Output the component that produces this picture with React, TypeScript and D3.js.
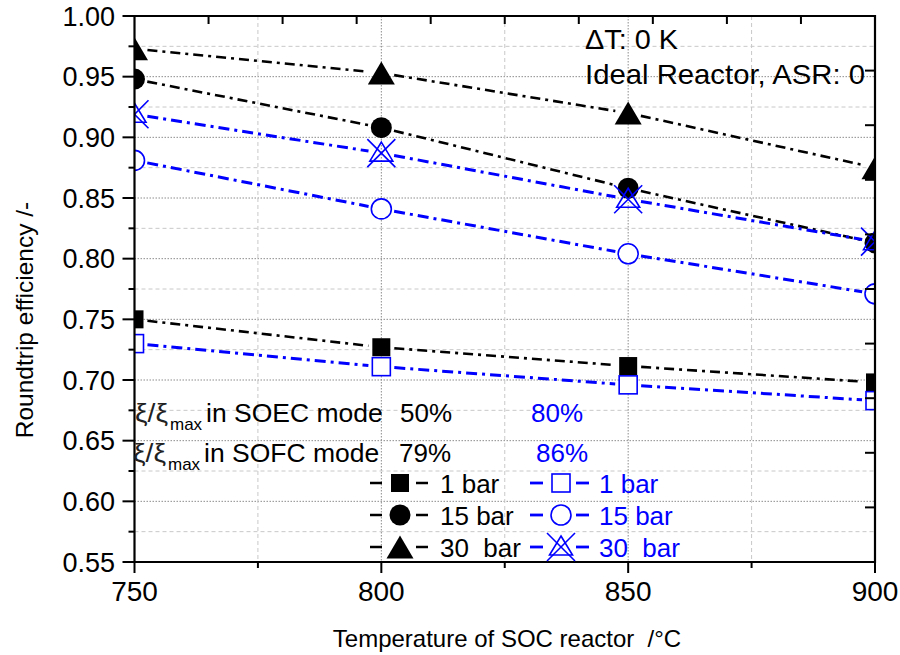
import React from 'react';
import * as d3 from 'd3';

// ---- data ----
const temperatures = [750, 800, 850, 900];
const soec1bar = [0.750, 0.727, 0.7115, 0.698];
const soec15bar = [0.948, 0.908, 0.858, 0.813];
const soec30bar = [0.973, 0.953, 0.920, 0.875];
const sofc1bar = [0.730, 0.711, 0.696, 0.683];
const sofc15bar = [0.881, 0.841, 0.804, 0.771];
const sofc30bar = [0.919, 0.887, 0.849, 0.814];

const xTickValues = [750, 800, 850, 900];
const xMinorValues = [775, 825, 875];
const yTickValues = [0.55, 0.6, 0.65, 0.7, 0.75, 0.8, 0.85, 0.9, 0.95, 1.0];
const yMinorValues = [0.575, 0.625, 0.675, 0.725, 0.775, 0.825, 0.875, 0.925, 0.975];
const legendLabels = ['1 bar', '15 bar', '30  bar'];
const modeLabels = ['in SOEC mode', 'in SOFC mode'];
const modeBlack = ['50%', '79%'];
const modeBlue = ['80%', '86%'];
const annotations = ['\u0394T: 0 K', 'Ideal Reactor, ASR: 0'];

type Sym = 'square' | 'circle' | 'triangle' | 'xtri';
const BLUE = '#0000ff';
const series: { values: number[]; color: string; sym: Sym; filled: boolean }[] = [
  { values: soec1bar, color: '#000', sym: 'square', filled: true },
  { values: soec15bar, color: '#000', sym: 'circle', filled: true },
  { values: soec30bar, color: '#000', sym: 'triangle', filled: true },
  { values: sofc1bar, color: BLUE, sym: 'square', filled: false },
  { values: sofc15bar, color: BLUE, sym: 'circle', filled: false },
  { values: sofc30bar, color: BLUE, sym: 'xtri', filled: false },
];

const W = 900, H = 655;
const L = 134.5, R = 875, T = 16, B = 562;
const FONT = '"Liberation Sans", Arial, Helvetica, sans-serif';

function Marker({ sym, cx, cy, color, filled }: { sym: Sym; cx: number; cy: number; color: string; filled: boolean }) {
  const fill = filled ? color : 'none';
  const sw = filled ? 0 : 1.6;
  if (sym === 'square') {
    return <rect x={cx - 9} y={cy - 9} width={18} height={18} fill={filled ? color : '#fff'} stroke={color} strokeWidth={filled ? 0 : 1.6} />;
  }
  if (sym === 'circle') {
    return <circle cx={cx} cy={cy} r={filled ? 10.5 : 10} fill={filled ? color : '#fff'} stroke={color} strokeWidth={sw} />;
  }
  if (sym === 'triangle') {
    const pts = [[cx, cy - 11.5], [cx + 13.5, cy + 11.5], [cx - 13.5, cy + 11.5]];
    return <polygon points={pts.map(p => p.join(',')).join(' ')} fill={fill} stroke={color} strokeWidth={sw} />;
  }
  const pts = [[cx, cy - 11], [cx + 11.5, cy + 8], [cx - 11.5, cy + 8]];
  return (
    <g stroke={color} strokeWidth={1.6} fill="none">
      <polygon points={pts.map(p => p.join(',')).join(' ')} />
      <line x1={cx - 14} y1={cy - 14} x2={cx + 14} y2={cy + 14} />
      <line x1={cx + 14} y1={cy - 14} x2={cx - 14} y2={cy + 14} />
    </g>
  );
}

export default function App() {
  const x = d3.scaleLinear().domain([750, 900]).range([L, R]);
  const y = d3.scaleLinear().domain([0.55, 1.0]).range([B, T]);

  const topTicks = d3.range(1, 10).map(i => L + ((R - L) * i) / 10);
  const rightTicks = d3.range(1, 10).map(i => T + ((B - T) * i) / 10);

  const trim = 13;
  const segs = (vals: number[]) => {
    const out: [number, number, number, number][] = [];
    for (let i = 0; i < vals.length - 1; i++) {
      const x1 = x(temperatures[i]), y1 = y(vals[i]);
      const x2 = x(temperatures[i + 1]), y2 = y(vals[i + 1]);
      const len = Math.hypot(x2 - x1, y2 - y1);
      const ux = (x2 - x1) / len, uy = (y2 - y1) / len;
      out.push([x1 + ux * trim, y1 + uy * trim, x2 - ux * trim, y2 - uy * trim]);
    }
    return out;
  };

  const legendRowY = [483, 515, 547];

  return (
    <svg width={W} height={H} style={{ position: 'absolute', left: 0, top: 0, background: '#fff' }} fontFamily={FONT}>
      <defs>
        <clipPath id="plotClip">
          <rect x={L} y={T} width={R - L} height={B - T} />
        </clipPath>
      </defs>
      <rect x={0} y={0} width={W} height={H} fill="#fff" />

      {/* grid */}
      <g>
        {yMinorValues.map(v => (
          <line key={'ym' + v} x1={L} x2={R} y1={y(v)} y2={y(v)} stroke="#c8c8c8" strokeWidth={1} strokeDasharray="4,3" />
        ))}
        {yTickValues.filter(v => v > 0.55 && v < 1).map(v => (
          <line key={'yM' + v} x1={L} x2={R} y1={y(v)} y2={y(v)} stroke="#8c8c8c" strokeWidth={1} strokeDasharray="1.5,1.5" />
        ))}
        {xMinorValues.map(v => (
          <line key={'xm' + v} x1={x(v)} x2={x(v)} y1={T} y2={B} stroke="#c8c8c8" strokeWidth={1} strokeDasharray="4,3" />
        ))}
        {xTickValues.filter(v => v > 750 && v < 900).map(v => (
          <line key={'xM' + v} x1={x(v)} x2={x(v)} y1={T} y2={B} stroke="#8c8c8c" strokeWidth={1} strokeDasharray="1.5,1.5" />
        ))}
      </g>

      {/* series */}
      <g clipPath="url(#plotClip)">
        {series.map((s, si) => (
          <g key={'s' + si}>
            {segs(s.values).map((sg, i) => (
              <line key={i} x1={sg[0]} y1={sg[1]} x2={sg[2]} y2={sg[3]} stroke={s.color}
                strokeWidth={s.color === BLUE ? 3 : 2.6}
                strokeDasharray={s.color === BLUE ? '11,5,3,5' : '10,5,3,5'} />
            ))}
          </g>
        ))}
        {series.map((s, si) => (
          <g key={'m' + si}>
            {s.values.map((v, i) => (
              <Marker key={i} sym={s.sym} cx={x(temperatures[i])} cy={y(v)} color={s.color} filled={s.filled} />
            ))}
          </g>
        ))}
      </g>

      {/* axes frame */}
      <g stroke="#000" strokeWidth={2.2} fill="none">
        <line x1={L} x2={L} y1={T - 1} y2={B + 1} />
        <line x1={L - 1} x2={R + 1} y1={B} y2={B} />
        <line x1={L - 1} x2={R + 1} y1={T} y2={T} />
        <line x1={R} x2={R} y1={T - 1} y2={B + 1} />
      </g>
      <g stroke="#000" strokeWidth={2}>
        {yTickValues.map(v => <line key={'yt' + v} x1={L - 12} x2={L} y1={y(v)} y2={y(v)} />)}
        {yMinorValues.map(v => <line key={'ymt' + v} x1={L - 6} x2={L} y1={y(v)} y2={y(v)} />)}
        {xTickValues.map(v => <line key={'xt' + v} x1={x(v)} x2={x(v)} y1={B} y2={B + 11} />)}
        {xMinorValues.map(v => <line key={'xmt' + v} x1={x(v)} x2={x(v)} y1={B} y2={B + 6} />)}
        {topTicks.map((p, i) => <line key={'tt' + i} x1={p} x2={p} y1={T} y2={T + 8} />)}
        {rightTicks.map((p, i) => <line key={'rt' + i} x1={R - 10} x2={R} y1={p} y2={p} />)}
      </g>

      {/* tick labels */}
      <g fontSize={27} fill="#000">
        {yTickValues.map(v => (
          <text key={'yl' + v} x={115} y={y(v) + 9.5} textAnchor="end">{d3.format('.2f')(v)}</text>
        ))}
        {xTickValues.map(v => (
          <text key={'xl' + v} x={x(v)} y={601} textAnchor="middle" fontSize={28}>{v}</text>
        ))}
      </g>

      {/* axis titles */}
      <text x={507} y={647} textAnchor="middle" fontSize={24} style={{ whiteSpace: 'pre' }}>Temperature of SOC reactor  /°C</text>
      <text transform="translate(33,320) rotate(-90)" textAnchor="middle" fontSize={24.5} style={{ whiteSpace: 'pre' }}>Roundtrip efficiency /-</text>

      {/* annotations */}
      <text x={585} y={49} fontSize={28} textLength={93} lengthAdjust="spacingAndGlyphs">{annotations[0]}</text>
      <text x={585} y={84} fontSize={28} textLength={280} lengthAdjust="spacingAndGlyphs">{annotations[1]}</text>

      {/* mode rows */}
      {modeLabels.map((lab, i) => {
        const by = i === 0 ? 422 : 462;
        const x0 = i === 0 ? 135 : 133;
        return (
          <g key={'mode' + i}>
            <text x={x0} y={by} fontSize={25} fill="#222" textLength={33} lengthAdjust="spacingAndGlyphs">ξ/ξ</text>
            <text x={x0 + 35} y={by + 8} fontSize={17}>max</text>
            <text x={i === 0 ? 206 : 204} y={by} fontSize={26.5} style={{ whiteSpace: 'pre' }}>{lab}</text>
            <text x={i === 0 ? 400 : 399} y={by} fontSize={26}>{modeBlack[i]}</text>
            <text x={i === 0 ? 531 : 536} y={by} fontSize={26} fill={BLUE}>{modeBlue[i]}</text>
          </g>
        );
      })}

      {/* legend */}
      {legendLabels.map((lab, i) => {
        const cy = legendRowY[i];
        const bs = series[i];
        const ws = series[i + 3];
        return (
          <g key={'lg' + i}>
            <line x1={370} x2={382} y1={cy} y2={cy} stroke="#000" strokeWidth={2.5} />
            <line x1={416} x2={428} y1={cy} y2={cy} stroke="#000" strokeWidth={2.5} />
            <Marker sym={bs.sym} cx={400} cy={cy} color={bs.color} filled={bs.filled} />
            <text x={440} y={cy + 9.5} fontSize={26} style={{ whiteSpace: 'pre' }}>{lab}</text>
            <line x1={530} x2={543} y1={cy} y2={cy} stroke={BLUE} strokeWidth={2.8} />
            <line x1={576} x2={589} y1={cy} y2={cy} stroke={BLUE} strokeWidth={2.8} />
            <Marker sym={ws.sym} cx={561} cy={cy} color={ws.color} filled={ws.filled} />
            <text x={599} y={cy + 9.5} fontSize={26} fill={BLUE} style={{ whiteSpace: 'pre' }}>{lab}</text>
          </g>
        );
      })}
    </svg>
  );
}
